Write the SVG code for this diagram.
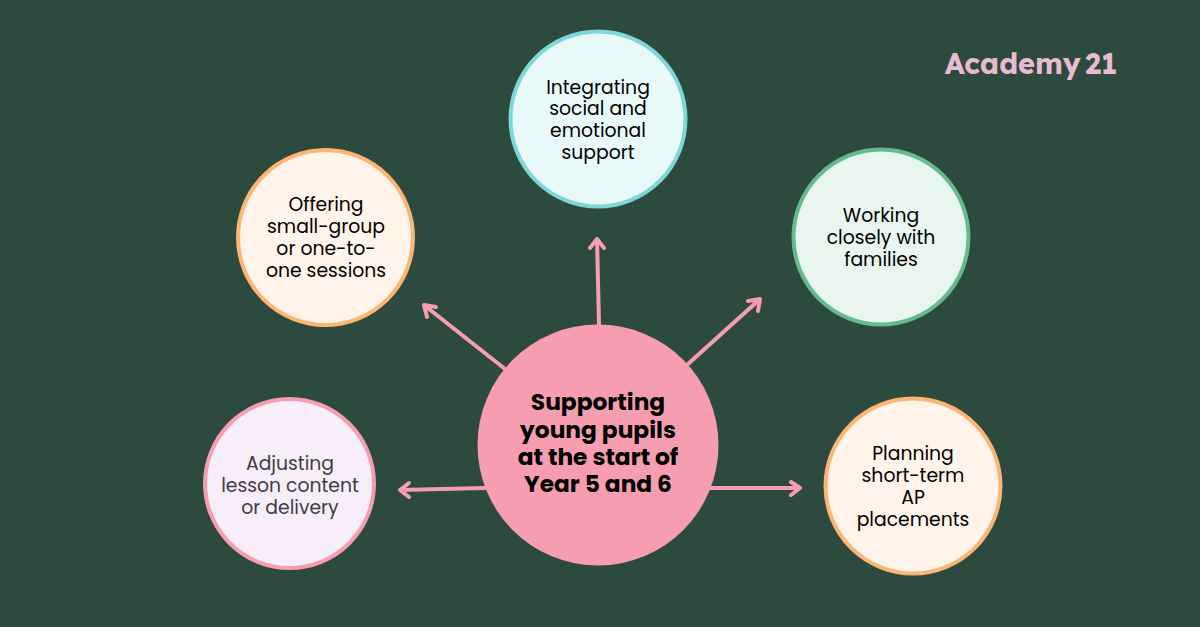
<svg xmlns="http://www.w3.org/2000/svg" width="1200" height="627" viewBox="0 0 1200 627">
<style>
.t{font-family:"Poppins","Lexend","Inter","Liberation Sans",sans-serif;font-size:18.800px;text-anchor:middle;fill:#000}
.b{font-weight:700;font-size:23.300px}
.g{fill:#3e3c42}
.c{stroke-width:4px}
.l{stroke:#f69db0;stroke-width:4px;fill:none;stroke-linecap:round;stroke-linejoin:round}
</style>
<rect width="1200" height="627" fill="#2d4a3e"/>
<g id="connectors" class="l">
<path d="M599 324L597 239M590 248L597 239L604 248"/>
<path d="M505 369L424 305M427 317L424 305L436 307"/>
<path d="M688 364L760 299M748 301L760 299L758 311"/>
<path d="M485 488L400 490M409 483L400 490L409 497"/>
<path d="M710 488L800 488M791 482L800 488L791 495"/>
</g>
<g id="center"><circle cx="598" cy="445" r="120.500" fill="#f69db0"/>
<text class="t b" x="598" y="410">Supporting</text><text class="t b" x="598" y="438">young pupils</text><text class="t b" x="598" y="465">at the start of</text><text class="t b" x="598" y="492">Year 5 and 6</text></g>
<g id="n-social"><circle class="c" cx="598" cy="119" r="87.500" fill="#e9f8f9" stroke="#7fd6d9"/>
<text class="t" x="598" y="94">Integrating</text><text class="t" x="598" y="115">social and</text><text class="t" x="598" y="137">emotional</text><text class="t" x="598" y="159">support</text></g>
<g id="n-small"><circle class="c" cx="325.500" cy="237.500" r="87.500" fill="#fff3ea" stroke="#fdb574"/>
<text class="t" x="326" y="211">Offering</text><text class="t" x="326" y="233">small-group</text><text class="t" x="326" y="255">or one-to-</text><text class="t" x="326" y="277">one sessions</text></g>
<g id="n-fam"><circle class="c" cx="881" cy="237" r="87.500" fill="#e9f6f0" stroke="#66bb8c"/>
<text class="t" x="881" y="222">Working</text><text class="t" x="881" y="244">closely with</text><text class="t" x="881" y="266">families</text></g>
<g id="n-adj"><circle class="c" cx="289.500" cy="483.500" r="84.500" fill="#f7eef9" stroke="#f69db0"/>
<text class="t g" x="290" y="470">Adjusting</text><text class="t g" x="290" y="492">lesson content</text><text class="t g" x="290" y="514">or delivery</text></g>
<g id="n-ap"><circle class="c" cx="913" cy="486" r="87.500" fill="#fff3ea" stroke="#fdb574"/>
<text class="t" x="913" y="460">Planning</text><text class="t" x="913" y="482">short-term</text><text class="t" x="913" y="504">AP</text><text class="t" x="913" y="526">placements</text></g>
<text id="logo" x="1031" y="74" text-anchor="middle" style="font-family:Lexend,Inter,'Liberation Sans',sans-serif;font-weight:700;font-size:29px;word-spacing:-5px;fill:#e8bbd2">Academy 21</text>
</svg>
